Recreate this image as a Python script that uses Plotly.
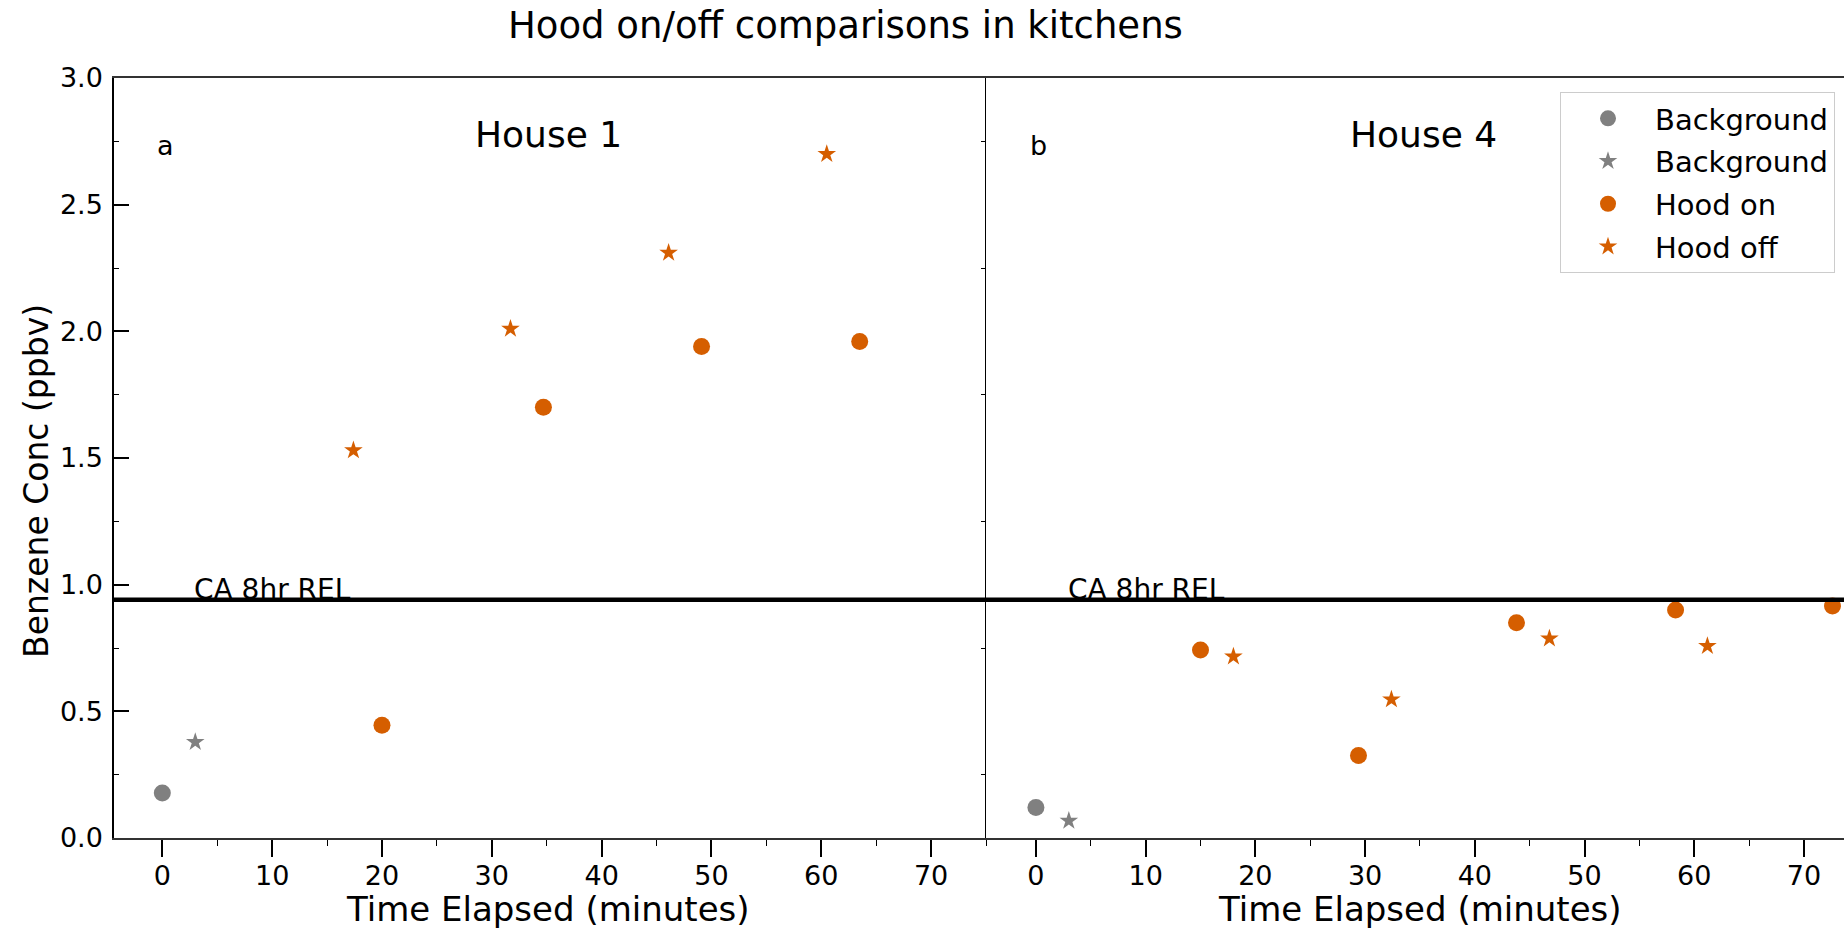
import plotly.graph_objects as go

# ---------------- data ----------------
# House 1 (panel a)
h1_bg_t = [0.0]
h1_bg_c = [0.178]
h1_bgstar_t = [3.0]
h1_bgstar_c = [0.379]
h1_on_t = [20.0, 34.7, 49.1, 63.5]
h1_on_c = [0.445, 1.70, 1.94, 1.96]
h1_off_t = [17.4, 31.7, 46.1, 60.5]
h1_off_c = [1.53, 2.01, 2.31, 2.70]

# House 4 (panel b)
h4_bg_t = [0.0]
h4_bg_c = [0.12]
h4_bgstar_t = [3.0]
h4_bgstar_c = [0.068]
h4_on_t = [15.0, 29.4, 43.8, 58.3, 72.6]
h4_on_c = [0.742, 0.326, 0.850, 0.900, 0.916]
h4_off_t = [18.0, 32.4, 46.8, 61.2]
h4_off_c = [0.716, 0.547, 0.787, 0.758]

REL = 0.94
x_ticks = [0, 10, 20, 30, 40, 50, 60, 70]
y_ticks = [0.0, 0.5, 1.0, 1.5, 2.0, 2.5, 3.0]
y_minor_odd = [0.25, 0.75, 1.25, 1.75, 2.25, 2.75]

ORANGE = "#D55E00"
GRAY = "#808080"
FONT = "DejaVu Sans"

W, H = 1844, 931


def px(x):
    return x / W


def py(y):
    return 1 - y / H


fig = go.Figure()

CIRCLE_SIZE = 17
STAR_SIZE = 14


def add_panel(xa, ya, bg_t, bg_c, bs_t, bs_c, on_t, on_c, off_t, off_c, show):
    fig.add_trace(go.Scatter(x=bg_t, y=bg_c, mode="markers", name="Background",
                             marker=dict(symbol="circle", size=CIRCLE_SIZE, color=GRAY),
                             xaxis=xa, yaxis=ya, showlegend=show, legendgroup="g1"))
    fig.add_trace(go.Scatter(x=bs_t, y=bs_c, mode="markers", name="Background",
                             marker=dict(symbol="star", size=STAR_SIZE, color=GRAY),
                             xaxis=xa, yaxis=ya, showlegend=show, legendgroup="g2"))
    fig.add_trace(go.Scatter(x=on_t, y=on_c, mode="markers", name="Hood on",
                             marker=dict(symbol="circle", size=CIRCLE_SIZE, color=ORANGE),
                             xaxis=xa, yaxis=ya, showlegend=show, legendgroup="g3"))
    fig.add_trace(go.Scatter(x=off_t, y=off_c, mode="markers", name="Hood off",
                             marker=dict(symbol="star", size=STAR_SIZE, color=ORANGE),
                             xaxis=xa, yaxis=ya, showlegend=show, legendgroup="g4"))


add_panel("x", "y", h1_bg_t, h1_bg_c, h1_bgstar_t, h1_bgstar_c, h1_on_t, h1_on_c, h1_off_t, h1_off_c, True)
add_panel("x2", "y2", h4_bg_t, h4_bg_c, h4_bgstar_t, h4_bgstar_c, h4_on_t, h4_on_c, h4_off_t, h4_off_c, False)

ydom = [py(838), py(78)]

xcommon = dict(
    tickvals=x_ticks, ticks="outside", ticklen=17, tickwidth=1.5, tickcolor="black",
    showline=True, linecolor="#333333", linewidth=1.5, mirror=True,
    showgrid=False, zeroline=False, automargin=False,
    tickfont=dict(family=FONT, size=27, color="black"), ticklabelstandoff=-4,
    minor=dict(dtick=5, tick0=0, ticks="outside", ticklen=6, tickwidth=1.2, tickcolor="black"),
)

fig.update_layout(
    width=W, height=H,
    margin=dict(l=0, r=0, t=0, b=0),
    paper_bgcolor="white", plot_bgcolor="white",
    font=dict(family=FONT, color="black"),
    xaxis=dict(domain=[px(114), px(986)], range=[-4.4, 75], anchor="y", **xcommon),
    xaxis2=dict(domain=[px(986), 1.0], range=[-4.55, 73.65], anchor="y2", **xcommon),
    yaxis=dict(domain=ydom, range=[0, 3], anchor="x", tickvals=y_ticks, tickformat=".1f",
               ticks="inside", ticklen=15, tickwidth=1.5, tickcolor="black",
               showline=True, linecolor="black", linewidth=1.5,
               showgrid=False, zeroline=False, automargin=False,
               tickfont=dict(family=FONT, size=27, color="black"), ticklabelstandoff=4,
               minor=dict(dtick=0.25, ticks="inside", ticklen=5, tickwidth=1.2, tickcolor="black")),
    yaxis2=dict(domain=ydom, range=[0, 3], anchor="x2", showticklabels=False, ticks="",
                showline=True, linecolor="black", linewidth=1,
                showgrid=False, zeroline=False, automargin=False,
                minor=dict(tickvals=y_minor_odd, ticks="outside", ticklen=4, tickwidth=1, tickcolor="black")),
    legend=dict(x=px(1560), y=py(92), xanchor="left", yanchor="top",
                bordercolor="#cccccc", borderwidth=1, bgcolor="rgba(255,255,255,0.8)",
                font=dict(family=FONT, size=29, color="black"),
                traceorder="grouped", tracegroupgap=2, itemwidth=84),
    showlegend=True,
)

# REL lines
for xr, yr in (("x domain", "y"), ("x2 domain", "y2")):
    fig.add_shape(type="line", xref=xr, yref=yr, x0=0, x1=1, y0=REL, y1=REL,
                  line=dict(color="black", width=4.5), layer="above")

annos = []
for xr, yr in (("x", "y"), ("x2", "y2")):
    annos.append(dict(text="CA 8hr REL", xref=xr, yref=yr, x=2.7, y=REL, xanchor="left",
                      yanchor="bottom", yshift=-8, showarrow=False,
                      font=dict(family=FONT, size=28, color="black")))

annos += [
    dict(text="Hood on/off comparisons in kitchens", xref="paper", yref="paper",
         x=px(845), y=py(26), xanchor="center", yanchor="middle", showarrow=False,
         font=dict(family=FONT, size=37)),
    dict(text="House 1", xref="paper", yref="paper", x=px(548), y=py(134),
         xanchor="center", yanchor="middle", showarrow=False, font=dict(family=FONT, size=36)),
    dict(text="House 4", xref="paper", yref="paper", x=px(1423), y=py(134),
         xanchor="center", yanchor="middle", showarrow=False, font=dict(family=FONT, size=36)),
    dict(text="a", xref="paper", yref="paper", x=px(165), y=py(146),
         xanchor="center", yanchor="middle", showarrow=False, font=dict(family=FONT, size=27)),
    dict(text="b", xref="paper", yref="paper", x=px(1038), y=py(146),
         xanchor="center", yanchor="middle", showarrow=False, font=dict(family=FONT, size=27)),
    dict(text="Time Elapsed (minutes)", xref="paper", yref="paper", x=px(548), y=0.0,
         xanchor="center", yanchor="bottom", yshift=0, showarrow=False, font=dict(family=FONT, size=34)),
    dict(text="Time Elapsed (minutes)", xref="paper", yref="paper", x=px(1420), y=0.0,
         xanchor="center", yanchor="bottom", yshift=0, showarrow=False, font=dict(family=FONT, size=34)),
    dict(text="Benzene Conc (ppbv)", xref="paper", yref="paper", x=px(36), y=py(481),
         xanchor="center", yanchor="middle", textangle=-90, showarrow=False,
         font=dict(family=FONT, size=33)),
]
fig.update_layout(annotations=annos)

fig.write_html("out.html")
